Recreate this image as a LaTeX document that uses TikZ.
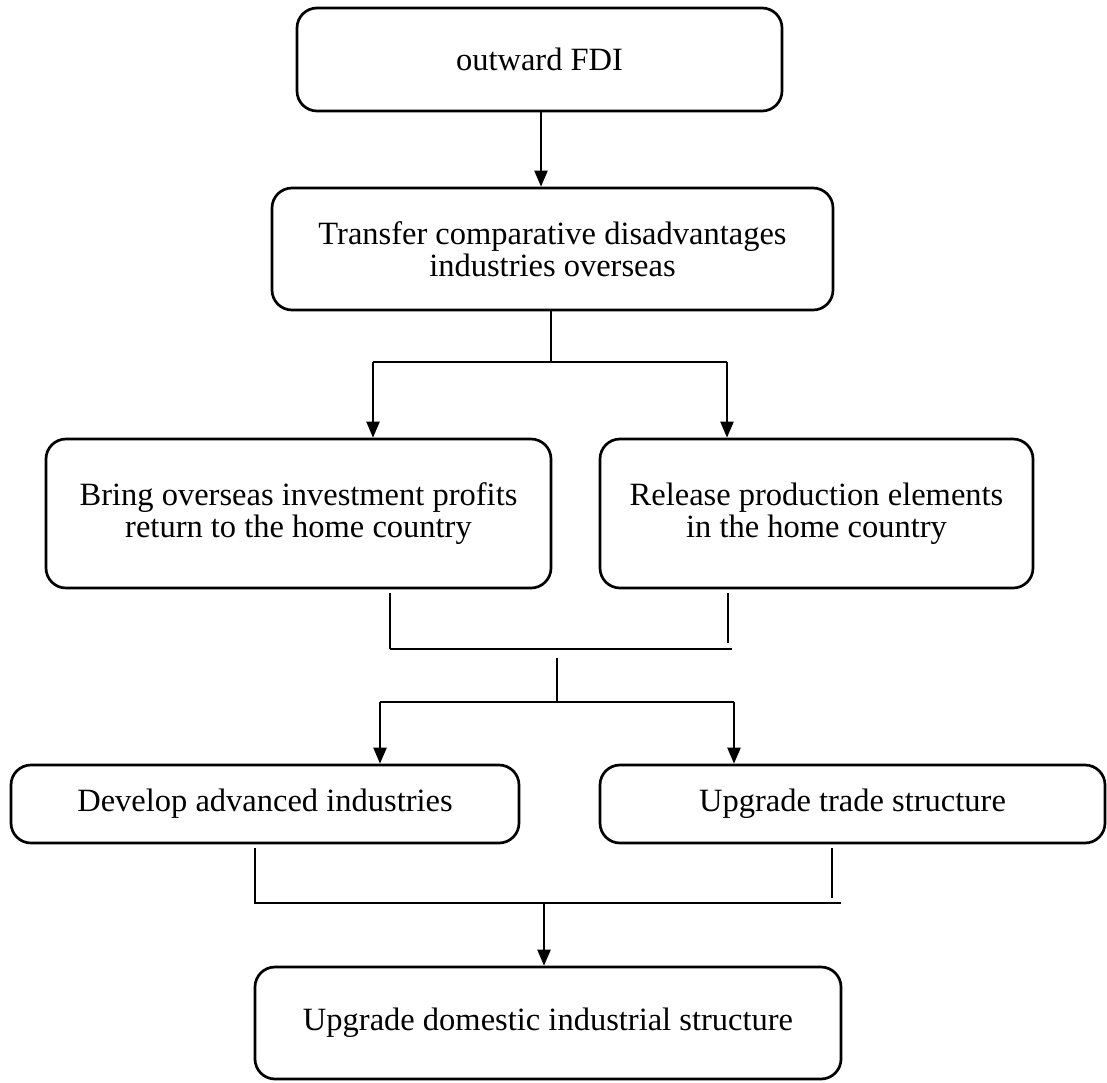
\documentclass[tikz,border=0pt]{standalone}
\usepackage{fontspec}
\setmainfont{Liberation Serif}
\usetikzlibrary{arrows.meta}
\tikzset{
  box/.style={draw, line width=2.7pt, rounded corners=20pt, align=center, inner sep=0pt,
    font=\fontsize{32.5}{32}\selectfont},
  conn/.style={line width=2.3pt},
  arr/.style={line width=2.3pt, -{Triangle[length=16pt,width=13pt]}}
}
\begin{document}
\begin{tikzpicture}[x=1pt,y=-1pt]
\useasboundingbox[fill=white] (0,0) rectangle (1107,1082);
\node[box, minimum width=485pt, minimum height=103pt] (fdi) at (539.5,59.5) {outward FDI};
\node[box, minimum width=561pt, minimum height=122pt] (tr) at (552.5,249) {Transfer comparative disadvantages\\industries overseas};
\node[box, minimum width=505pt, minimum height=149pt] (bring) at (298.5,513.5) {Bring overseas investment profits\\return to the home country};
\node[box, minimum width=433pt, minimum height=149pt] (rel) at (816.5,513.5) {Release production elements\\in the home country};
\node[box, minimum width=508pt, minimum height=78pt] (dev) at (265,804) {Develop advanced industries};
\node[box, minimum width=505pt, minimum height=78pt] (upt) at (852.5,804) {Upgrade trade structure};
\node[box, minimum width=586pt, minimum height=112pt] (dom) at (548,1023) {Upgrade domestic industrial structure};
% FDI -> Transfer
\draw[arr] (fdi.south -| 541,0) -- (tr.north -| 541,0);
% Transfer -> split
\coordinate (j1) at (551,362);
\coordinate (j1l) at (373,362);
\coordinate (j1r) at (727,362);
\draw[conn] (tr.south -| j1) -- (j1);
\draw[conn] (j1l) -- (j1r);
\draw[arr] (j1l) -- (j1l |- bring.north);
\draw[arr] (j1r) -- (j1r |- rel.north);
% merge 1
\coordinate (m1a) at (390,593);
\coordinate (m1b) at (390,649);
\coordinate (m1c) at (732,649);
\coordinate (m1d) at (728,593);
\coordinate (m1e) at (728,643);
\draw[conn] (m1a) -- (m1b);
\draw[line width=2.8pt] (m1b) -- (m1c);
\draw[conn] (m1d) -- (m1e);
% split 2
\coordinate (j2t) at (557,658);
\coordinate (j2) at (557,702);
\coordinate (j2l) at (380,702);
\coordinate (j2r) at (734,702);
\draw[line width=1.8pt] (j2t) -- (j2);
\draw[conn] (j2l) -- (j2r);
\draw[arr] (j2l) -- (j2l |- dev.north);
\draw[arr] (j2r) -- (j2r |- upt.north);
% merge 2
\coordinate (m2a) at (255,848);
\coordinate (m2b) at (255,903);
\coordinate (m2c) at (841,903);
\coordinate (m2d) at (832,848);
\coordinate (m2e) at (832,898);
\coordinate (m2m) at (544,903);
\draw[conn] (m2a) -- (m2b) -- (m2c);
\draw[conn] (m2d) -- (m2e);
\draw[arr] (m2m) -- (m2m |- dom.north);
\end{tikzpicture}
\end{document}
